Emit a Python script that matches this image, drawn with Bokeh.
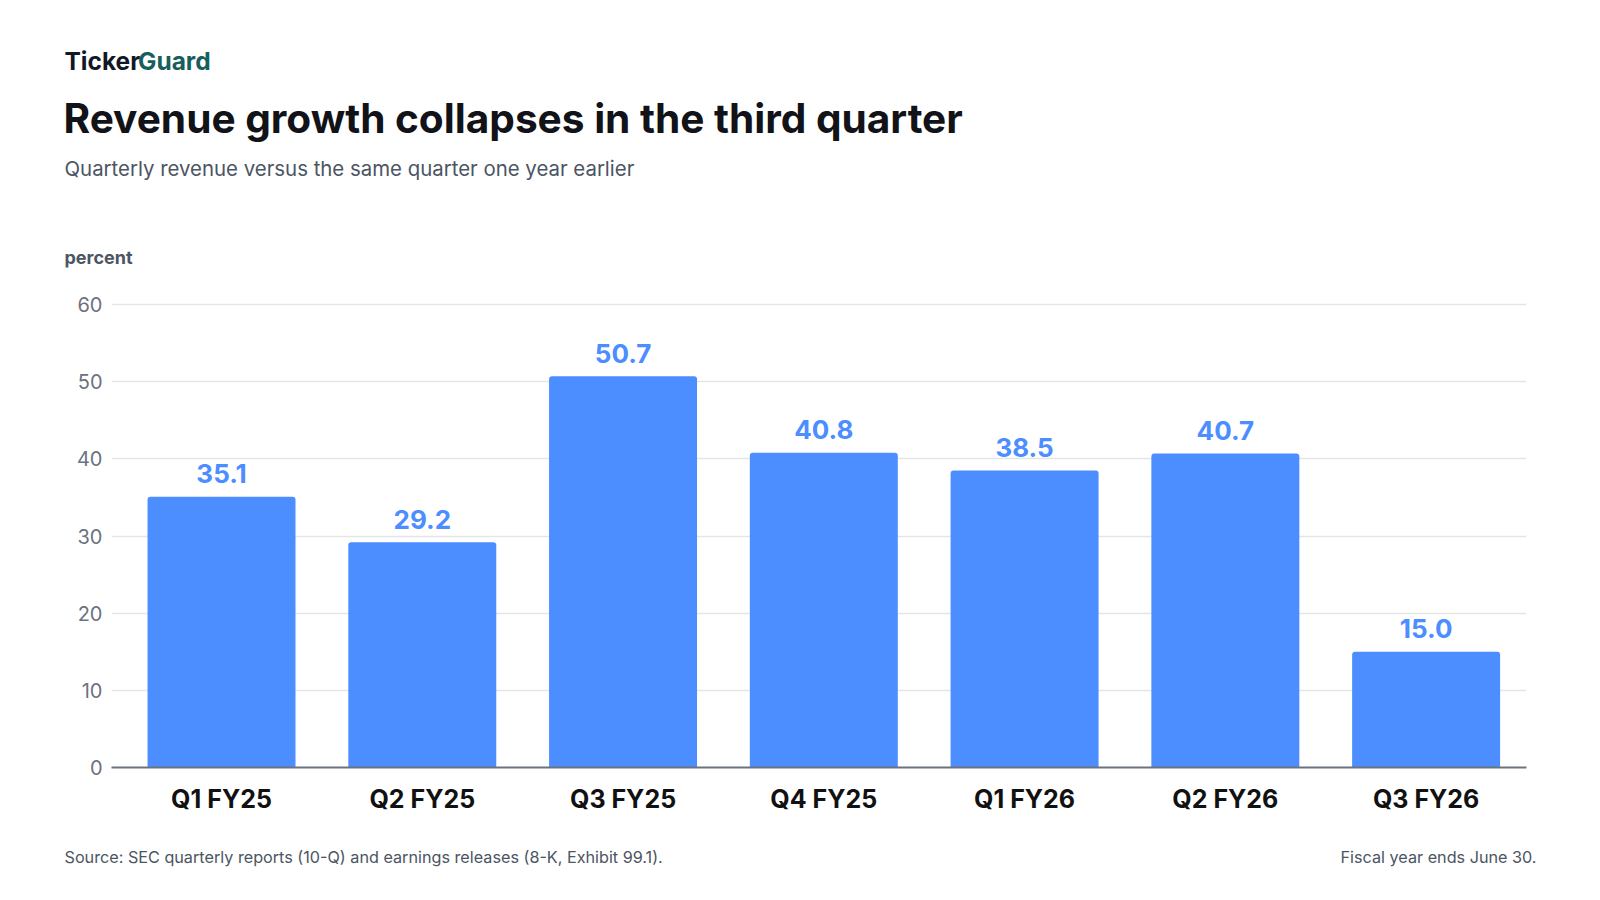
from bokeh.plotting import figure
from bokeh.layouts import column
from bokeh.models import Range1d, FixedTicker, ColumnDataSource
from bokeh.core.properties import value
from bokeh.embed import file_html
from bokeh.resources import INLINE

quarters = ["Q1 FY25", "Q2 FY25", "Q3 FY25", "Q4 FY25", "Q1 FY26", "Q2 FY26", "Q3 FY26"]
growth = [35.1, 29.2, 50.7, 40.8, 38.5, 40.7, 15.0]
y_ticks = [0, 10, 20, 30, 40, 50, 60]

FONT = "Inter"
BLUE = "#4C8DFF"
GREY_TXT = "#4B5563"
W = 1584


def blank(h):
    f = figure(width=W, height=h, output_backend="svg", toolbar_location=None,
               x_range=Range1d(0, W), y_range=Range1d(h, 0),
               x_axis_type=None, y_axis_type=None,
               min_border_left=0, min_border_right=0, min_border_top=0, min_border_bottom=0)
    f.frame_align = False
    f.outline_line_color = None
    f.grid.visible = False
    f.background_fill_color = "white"
    f.border_fill_color = "white"
    return f


def txt(f, s, x, y, size, color, bold=False, align="left"):
    f.text(x=[x], y=[y], text=[s], text_font=value(FONT), text_font_size=size,
           text_color=color, text_font_style="bold" if bold else "normal",
           text_align=align, text_baseline="alphabetic")


# ---- header
head = blank(280)
txt(head, "Ticker", 64, 60.5, "24.5px", "#111827", bold=True)
txt(head, "Guard", 137.5, 60.5, "24.5px", "#175E5C", bold=True)
txt(head, "Revenue growth collapses in the third quarter", 63, 118, "40.6px", "#111318", bold=True)
txt(head, "Quarterly revenue versus the same quarter one year earlier", 64, 167.8, "20.4px", GREY_TXT)
txt(head, "percent", 64, 257, "18px", GREY_TXT, bold=True)

# ---- main chart
idx = list(range(len(quarters)))
src = ColumnDataSource(dict(x=idx, top=growth, lab=[f"{v:.1f}" for v in growth]))

p = figure(width=W, height=550, output_backend="svg", toolbar_location=None,
           x_range=Range1d(-0.548, 6.5), y_range=Range1d(0, 60.26),
           min_border_left=111, min_border_right=58, min_border_top=22, min_border_bottom=63)
p.frame_align = False
p.outline_line_color = None
p.background_fill_color = "white"
p.border_fill_color = "white"

p.vbar(x="x", top="top", bottom=0, width=0.737, source=src, fill_color=BLUE,
       line_color=None, border_radius=(3, 3, 0, 0))
p.text(x="x", y="top", text="lab", source=src, text_align="center", text_baseline="alphabetic",
       y_offset=-23, text_font=value(FONT), text_font_style="bold", text_font_size="26px",
       text_color=BLUE)

p.xgrid.visible = False
p.ygrid.ticker = FixedTicker(ticks=y_ticks)
p.ygrid.grid_line_color = "#E5E5E5"
p.ygrid.grid_line_width = 1.5

ya = p.yaxis[0]
ya.ticker = FixedTicker(ticks=y_ticks)
ya.axis_line_color = None
ya.major_tick_line_color = None
ya.minor_tick_line_color = None
ya.major_tick_out = 0
ya.major_tick_in = 0
ya.major_label_standoff = 9
ya.major_label_text_font = FONT
ya.major_label_text_font_size = "20px"
ya.major_label_text_color = "#6B7280"

xa = p.xaxis[0]
xa.ticker = FixedTicker(ticks=idx)
xa.major_label_overrides = {i: q for i, q in zip(idx, quarters)}
xa.axis_line_color = "#6B7280"
xa.axis_line_width = 2
xa.major_tick_line_color = None
xa.minor_tick_line_color = None
xa.major_tick_out = 0
xa.major_tick_in = 0
xa.major_label_standoff = 16
xa.major_label_text_font = FONT
xa.major_label_text_font_style = "bold"
xa.major_label_text_font_size = "25px"
xa.major_label_text_color = "#111111"

# ---- footer
foot = blank(54)
txt(foot, "Source: SEC quarterly reports (10-Q) and earnings releases (8-K, Exhibit 99.1).",
    64, 26.3, "16.2px", GREY_TXT)
txt(foot, "Fiscal year ends June 30.", 1536, 26.3, "16.2px", GREY_TXT, align="right")

layout = column(head, p, foot, spacing=0)
open("out.html", "w").write(file_html(layout, INLINE))
